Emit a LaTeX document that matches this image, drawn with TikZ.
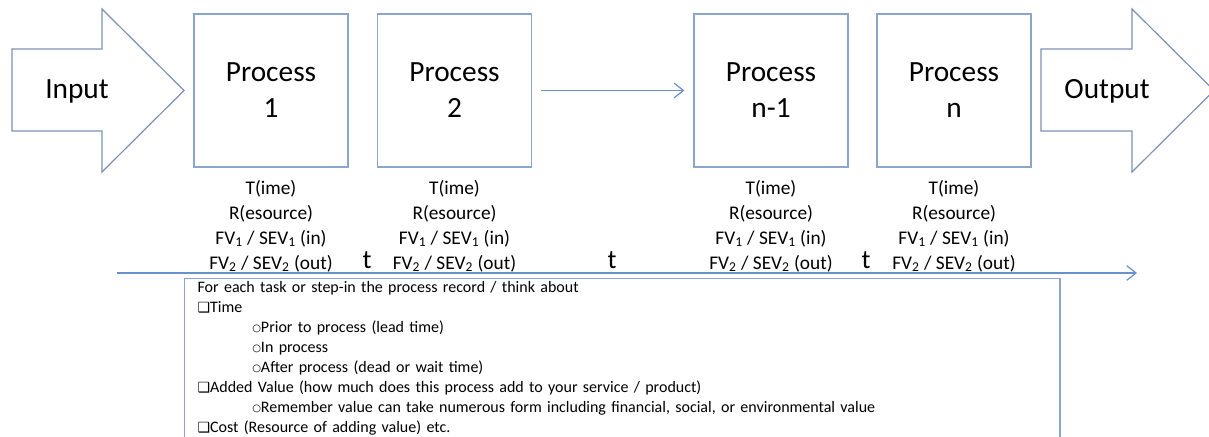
\documentclass[tikz,border=0pt]{standalone}
\usepackage{fontspec}
\setmainfont{Carlito}
\newfontfamily\symfont{DejaVu Sans}
\usetikzlibrary{arrows.meta,positioning}

\definecolor{boxblue}{RGB}{140,165,205}
\definecolor{arrowblue}{RGB}{125,145,182}
\definecolor{lineblue}{RGB}{105,145,205}

\newcommand{\measures}{T(ime)\\R(esource)\\FV\textsubscript{1} / SEV\textsubscript{1} (in)\\FV\textsubscript{2} / SEV\textsubscript{2} (out)}
\newcommand{\chk}{{\symfont\fontsize{10.5}{10}\selectfont ❑}}
\newcommand{\sub}{\hspace*{41pt}\raisebox{0.9pt}{\symfont\fontsize{7.5}{7}\selectfont ○}}

\begin{document}
\begin{tikzpicture}
  [x=0.75pt,y=-0.75pt,
   proc/.style={draw=boxblue,line width=0.9pt,minimum width=115.5pt,minimum height=114.75pt,align=center,font=\fontsize{22}{27}\selectfont},
   bigtext/.style={font=\fontsize{22}{27}\selectfont},
   info/.style={align=center,inner sep=0pt,font=\fontsize{14.5}{18.75}\selectfont},
   tick/.style={inner sep=0pt,font=\fontsize{20}{24}\selectfont},
   bigarrow/.style={draw=arrowblue,line width=0.9pt},
   flow/.style={draw=lineblue,line width=0.9pt,-{Straight Barb[length=7pt,width=11pt]}},
   notes/.style={draw=boxblue,line width=0.9pt,text width=637pt,inner xsep=9.75pt,inner ysep=2pt,align=left,font=\fontsize{12}{15}\selectfont}]

  \clip (0,0) rectangle (1209,436);

  % input and output arrows
  \draw[bigarrow] (12,49) -- (102,49) -- (102,9) -- (184,90.5) -- (102,172) -- (102,131) -- (12,131) -- cycle;
  \draw[bigarrow] (1041,49) -- (1132,49) -- (1132,9) -- (1214,90.5) -- (1132,172) -- (1132,131) -- (1041,131) -- cycle;
  \node[bigtext] (inp)  at (77,91.5)   {Input};
  \node[bigtext] (outp) at (1107,91.5) {Output};

  % processes
  \node[proc] (p1)  at (271,90.5)   {Process\\1};
  \node[proc] (p2)  at (454.5,90.5) {Process\\2};
  \node[proc] (pn1) at (771,90.5)   {Process\\n-1};
  \node[proc] (pn)  at (954,90.5)   {Process\\n};

  \draw[flow,shorten <=6.75pt,shorten >=6.75pt] (p2) -- (pn1);

  \foreach \p/\i in {p1/i1,p2/i2,pn1/in1,pn/in}
    \node[info,below=9pt of \p] (\i) {\measures};

  \node[tick] (t1) at (367,260.5) {t};
  \node[tick] (t2) at (612,260.5) {t};
  \node[tick] (t3) at (866,260.5) {t};

  % time line
  \coordinate (tl0) at (117,273);
  \coordinate (tl1) at (1137,273);
  \draw[flow] (tl0) -- (tl1);

  \node[notes,anchor=north west] (notes) at (184,278) {For each task or step-in the process record / think about\\
    \chk Time\\
    \sub Prior to process (lead time)\\
    \sub In process\\
    \sub After process (dead or wait time)\\
    \chk Added Value (how much does this process add to your service / product)\\
    \sub Remember value can take numerous form including financial, social, or environmental value\\
    \chk Cost (Resource of adding value) etc.\\[6pt]};

\end{tikzpicture}
\end{document}
